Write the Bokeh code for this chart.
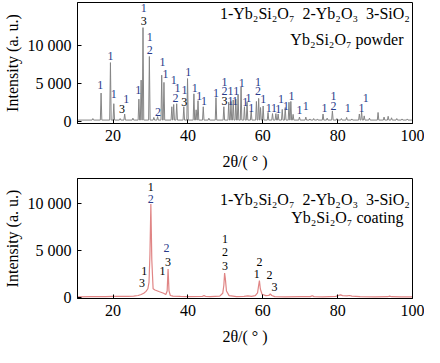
from bokeh.plotting import figure
from bokeh.models import Range1d, FixedTicker, Label, ColumnDataSource
from bokeh.layouts import column
from bokeh.embed import file_html
from bokeh.resources import INLINE

# ---------------- data ----------------
x_ticks = [20, 40, 60, 80, 100]
y_ticks = [0, 5000, 10000]
y_tick_labels = ["0", "5 000", "10 000"]

# top panel (powder): peak positions and intensities
top_base = 250
top_peak_x = [14.6, 16.8, 19.3, 20.2, 21.9, 23.1, 25.3, 26.9, 27.5, 28.0, 29.7, 30.9, 31.9,
              33.0, 33.6, 35.7, 36.2, 37.0, 38.9, 39.9, 41.6, 42.2, 42.7, 44.1, 45.6, 47.5,
              49.6, 50.9, 51.5, 52.1, 52.8, 53.4, 54.2, 55.1, 55.8, 56.9, 58.3, 58.9, 59.4,
              60.1, 61.4, 62.6, 63.5, 64.1, 65.2, 66.0, 67.0, 67.5, 68.1, 69.8, 71.5, 72.6,
              73.6, 74.6, 76.1, 77.2, 78.6, 79.8, 81.0, 82.4, 83.8, 85.8, 86.4, 87.1, 88.5,
              90.8, 92.4, 93.5, 94.4, 95.8, 97.2, 98.6]
top_peak_y = [450, 3800, 7800, 2400, 450, 1050, 500, 3000, 5500, 12400, 8600, 600, 700,
              6150, 5200, 2000, 2300, 2400, 2000, 5700, 3700, 1600, 2800, 2000, 500, 3200,
              2000, 2600, 2700, 2900, 3000, 3600, 4600, 2000, 2600, 1450, 2700, 3100, 1900,
              2100, 1250, 1100, 1100, 1050, 1650, 1900, 2600, 2700, 1000, 650, 650, 400,
              450, 400, 1050, 500, 1450, 450, 450, 600, 400, 1050, 1350, 800, 500,
              1250, 650, 750, 550, 450, 400, 400]

# top panel peak markers (phase numbers)
top_lbl_x = [16.6, 19.3, 20.2, 22.4, 23.5, 26.7, 28.2, 28.2, 29.8, 29.8, 32.0, 33.2, 34.0,
             36.2, 37.2, 36.7, 39.1, 39.0, 40.1, 41.8, 43.0, 44.3, 47.5, 49.8, 49.8, 49.8,
             51.4, 52.9, 51.4, 52.6, 54.4, 55.3, 56.2, 56.9, 58.7, 58.7, 60.1, 61.6, 63.0,
             64.1, 64.9, 66.2, 67.7, 69.8, 71.5, 76.5, 78.9, 78.9, 82.7, 86.4, 87.5]
top_lbl_y = [4880, 8700, 3670, 1650, 3060, 4150, 14970, 13230, 11130, 9520, 1250, 7900, 6290,
             5570, 4480, 3150, 4150, 2660, 6620, 4480, 3390, 2750, 3870, 5290, 4080, 2750,
             4080, 4080, 2750, 2750, 5160, 2660, 3150, 1780, 5290, 4020, 2990, 1850, 1850,
             1650, 2990, 2060, 3470, 1540, 2060, 1780, 3470, 2060, 1780, 1850, 3150]
top_lbl_t = ["1", "1", "1", "3", "1", "1", "1", "3", "1", "2", "2", "1", "1",
             "1", "1", "2", "1", "3", "1", "1", "1", "1", "1", "1", "2", "3",
             "1", "1", "1", "1", "1", "1", "1", "1", "1", "2", "1", "1", "1",
             "1", "1", "1", "1", "1", "1", "1", "1", "2", "1", "1", "1"]

# bottom panel (coating): profile points
bot_x = [10.5, 14, 18, 20, 22, 24, 25.5, 26.7, 27.5, 28.2, 28.8, 29.3, 29.6, 29.85, 30.1,
         30.35, 30.7, 31.2, 32.4, 33.5, 34.1, 34.45, 34.7, 34.95, 35.3, 36, 38, 40, 43.8,
         44.3, 44.8, 46, 48.5, 49.3, 49.6, 49.8, 50.0, 50.3, 51, 53, 55, 56, 57, 58, 58.6,
         58.9, 59.1, 59.35, 59.8, 60.8, 61.6, 62.0, 62.4, 63.2, 66, 70, 72.7, 73.2, 73.7,
         76, 79.5, 80.3, 80.8, 81.3, 82.5, 83.2, 83.8, 86, 90, 93.4, 93.9, 94.4, 97, 100]
bot_y = [80, 90, 100, 130, 120, 130, 160, 220, 320, 450, 650, 930, 1600, 4500, 9900,
         4000, 930, 800, 610, 450, 320, 700, 3010, 700, 220, 150, 120, 100, 110,
         200, 110, 90, 150, 450, 1300, 2600, 2000, 700, 200, 100, 120, 180, 120, 200, 500,
         1300, 1800, 900, 350, 200, 220, 380, 220, 100, 80, 90, 100, 200, 100,
         80, 120, 230, 280, 200, 170, 220, 150, 90, 80, 90, 150, 90, 80, 80]

bot_lbl_x = [30.1, 30.1, 34.3, 34.7, 33.2, 28.3, 27.7, 49.9, 49.9, 49.9, 59.1, 58.4, 61.8, 63.1]
bot_lbl_y = [11670, 10450, 5260, 3810, 2760, 2850, 1570, 6150, 4780, 3330, 3810, 2530, 2370, 1150]
bot_lbl_t = ["1", "2", "2", "3", "1", "1", "3", "1", "2", "3", "2", "1", "2", "3"]
bot_lbl_blue = [False, True, True, False, False, False, False, False, False, False,
                False, False, False, False]

SP = "\u00a0\u00a0"
legend_text = "1-Yb₂Si₂O₇" + SP + "2-Yb₂O₃" + SP + "3-SiO₂"
top_title = "Yb₂Si₂O₇ powder"
bot_title = "Yb₂Si₂O₇ coating"

FONT = "Liberation Serif"
NAVY = "#283a8a"


def build_top_profile(xs, ys, base, hw=0.2):
    px, py = [10.5], [base]
    for x, y in zip(xs, ys):
        px += [x - hw, x, x + hw]
        py += [base, y, base]
    px.append(100)
    py.append(base)
    return px, py


def style(p):
    p.xaxis.ticker = FixedTicker(ticks=x_ticks)
    p.yaxis.ticker = FixedTicker(ticks=y_ticks)
    p.yaxis.major_label_overrides = {t: s for t, s in zip(y_ticks, y_tick_labels)}
    p.xgrid.visible = False
    p.ygrid.visible = False
    p.outline_line_color = "black"
    p.outline_line_width = 1
    p.outline_line_alpha = 1
    for ax in (p.xaxis, p.yaxis):
        ax.axis_line_color = "black"
        ax.major_tick_line_color = "black"
        ax.minor_tick_line_color = None
        ax.major_tick_in = 4
        ax.major_tick_out = 0
        ax.major_label_text_font = FONT
        ax.major_label_text_font_size = "16px"
        ax.major_label_text_color = "black"
        ax.axis_label_text_font = FONT
        ax.axis_label_text_font_size = "16px"
        ax.axis_label_text_font_style = "normal"
        ax.axis_label_text_color = "black"
    p.xaxis.axis_label = "2θ/( ° )"
    p.yaxis.axis_label = "Intensity (a. u.)"
    p.xaxis.major_label_standoff = 6
    p.xaxis.axis_label_standoff = 9
    p.yaxis.major_label_standoff = 6
    p.yaxis.axis_label_standoff = 4
    p.background_fill_color = "white"
    p.border_fill_color = "white"


W = 424
p1 = figure(width=W, height=172, output_backend="svg", toolbar_location=None,
            x_range=Range1d(10.5, 100), y_range=Range1d(-200, 15700),
            min_border_left=72, min_border_right=12, min_border_top=2, min_border_bottom=40)
style(p1)
tx, ty = build_top_profile(top_peak_x, top_peak_y, top_base)
p1.line(tx, ty, line_color="#858585", line_width=1)

src1 = ColumnDataSource(dict(x=top_lbl_x, y=top_lbl_y, t=top_lbl_t,
                             c=["black" if s == "3" else NAVY for s in top_lbl_t]))
p1.text(x="x", y="y", text="t", source=src1, text_color="c", text_align="center",
        text_baseline="middle", text_font_size="12px", text_font=FONT)

p1.add_layout(Label(x=99.3, y=14270, text=legend_text, text_align="right", text_baseline="middle",
                    text_font=FONT, text_font_size="16px", text_color="black"))
p1.add_layout(Label(x=97.6, y=10860, text=top_title, text_align="right", text_baseline="middle",
                    text_font=FONT, text_font_size="16px", text_color="black"))

p2 = figure(width=W, height=175, output_backend="svg", toolbar_location=None,
            x_range=Range1d(10.5, 100), y_range=Range1d(-100, 12600),
            min_border_left=72, min_border_right=12, min_border_top=6, min_border_bottom=41)
style(p2)
p2.line(bot_x, bot_y, line_color="#e08585", line_width=1.2)
src2 = ColumnDataSource(dict(x=bot_lbl_x, y=bot_lbl_y, t=bot_lbl_t,
                             c=[NAVY if b else "black" for b in bot_lbl_blue]))
p2.text(x="x", y="y", text="t", source=src2, text_color="c", text_align="center",
        text_baseline="middle", text_font_size="12px", text_font=FONT)
p2.add_layout(Label(x=99.3, y=10380, text=legend_text, text_align="right", text_baseline="middle",
                    text_font=FONT, text_font_size="16px", text_color="black"))
p2.add_layout(Label(x=97.6, y=8460, text=bot_title, text_align="right", text_baseline="middle",
                    text_font=FONT, text_font_size="16px", text_color="black"))

layout = column(p1, p2, spacing=0)
open("out.html", "w").write(file_html(layout, INLINE))
